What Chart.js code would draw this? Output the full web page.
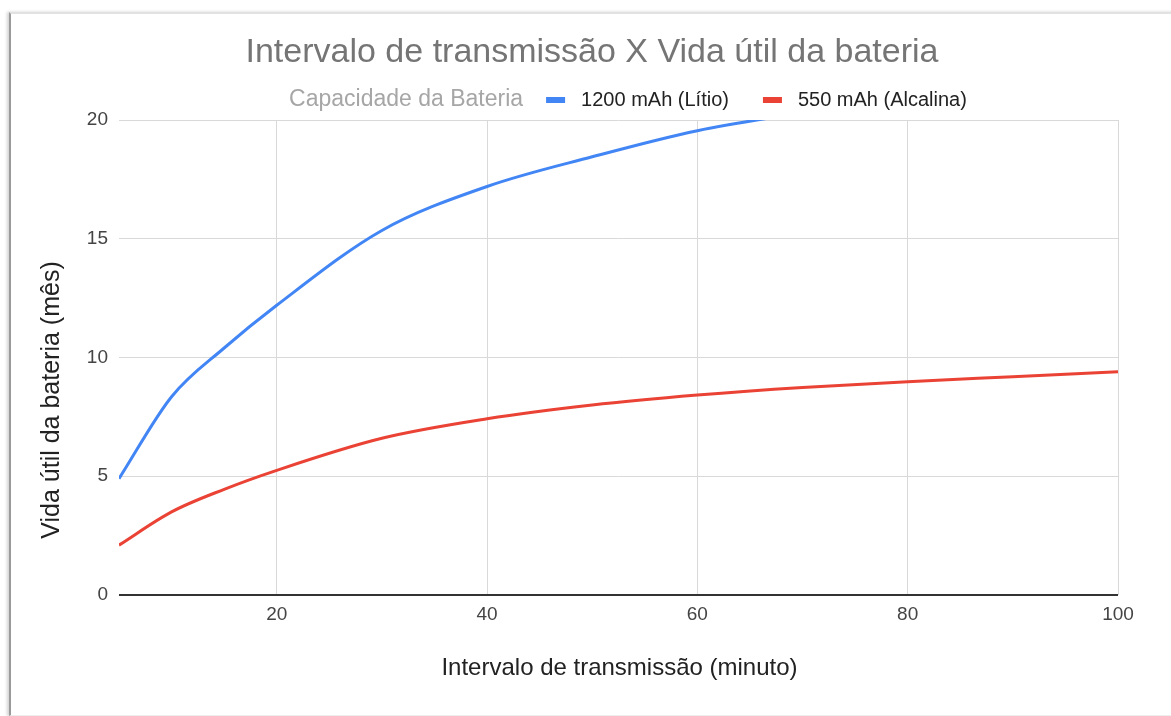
<!DOCTYPE html>
<html>
<head>
<meta charset="utf-8">
<script src="https://cdn.jsdelivr.net/npm/chart.js@4.4.1/dist/chart.umd.min.js"></script>
<style>
  html, body { margin: 0; padding: 0; background: #fff; }
  #wrap { position: relative; width: 1171px; height: 716px; overflow: hidden; }
  #frame { position: absolute; left: 9px; top: 12px; width: 1170px; height: 701px;
           border-left: 2px solid #9a9a9a; border-top: 2px solid #e2e2e2; border-bottom: 1px solid #eeeeee;
           box-shadow: -2px 0 3px rgba(0,0,0,0.18); }
  canvas { position: absolute; left: 0; top: 0; }
</style>
</head>
<body>
<div id="wrap">
  <div id="frame"></div>
  <canvas id="c" width="1171" height="716"></canvas>
</div>
<script>
// ---- data ----
const chartTitle = "Intervalo de transmissão X Vida útil da bateria";
const legendTitle = "Capacidade da Bateria";
const xAxisTitle = "Intervalo de transmissão (minuto)";
const yAxisTitle = "Vida útil da bateria (mês)";
const seriesNames = ["1200 mAh (Lítio)", "550 mAh (Alcalina)"];
const intervals = [5, 10, 15, 20, 30, 40, 50, 60, 70, 80, 90, 100];
const lithium   = [4.9, 8.35, 10.4, 12.2, 15.35, 17.2, 18.45, 19.55, 20.3, 20.9, 21.5, 22.0];
const alkaline  = [2.1, 3.5, 4.45, 5.25, 6.6, 7.42, 8.0, 8.42, 8.74, 8.98, 9.19, 9.4];
const xTicks = [20, 40, 60, 80, 100];
const yTicks = [0, 5, 10, 15, 20];

const FONT = "'Liberation Sans', Arial, sans-serif";
const colors = ["#4285f4", "#ea4335"];

const toPoints = (ys) => intervals.map((x, i) => ({ x: x, y: ys[i] }));

const decor = {
  id: 'decor',
  afterDraw(chart) {
    const ctx = chart.ctx;
    const area = chart.chartArea;
    ctx.save();
    // Title
    ctx.fillStyle = '#757575';
    ctx.font = '34px ' + FONT;
    ctx.textAlign = 'center';
    ctx.textBaseline = 'middle';
    ctx.fillText(chartTitle, 592, 53);

    // Legend (inline title + items)
    const ly = 100;
    const titleFont = '23px ' + FONT, itemFont = '20px ' + FONT;
    ctx.textAlign = 'left';
    ctx.font = titleFont;
    const tW = ctx.measureText(legendTitle).width;
    ctx.font = itemFont;
    const widths = seriesNames.map(s => ctx.measureText(s).width);
    const mk = 19, gapT = 23, gapM = 16, gapI = 34;
    const total = tW + gapT + mk + gapM + widths[0] + gapI + mk + gapM + widths[1];
    let x = 628 - total / 2;
    ctx.font = titleFont;
    ctx.fillStyle = '#a6a6a6';
    ctx.fillText(legendTitle, x, ly);
    x += tW + gapT;
    chart.data.datasets.forEach((ds, i) => {
      ctx.fillStyle = ds.borderColor;
      ctx.fillRect(x, ly - 3, mk, 6);
      x += mk + gapM;
      ctx.font = itemFont;
      ctx.fillStyle = '#222';
      ctx.fillText(ds.label, x, ly);
      x += widths[i] + gapI;
    });

    // Axis titles
    ctx.font = '24px ' + FONT;
    ctx.fillStyle = '#222';
    ctx.textAlign = 'center';
    ctx.fillText(xAxisTitle, (area.left + area.right) / 2 + 1, 668);
    ctx.font = '25px ' + FONT;
    ctx.translate(52, 400);
    ctx.rotate(-Math.PI / 2);
    ctx.fillText(yAxisTitle, 0, 0);
    ctx.restore();
  }
};

new Chart(document.getElementById('c'), {
  type: 'line',
  data: {
    datasets: [
      { label: seriesNames[0], data: toPoints(lithium), borderColor: colors[0], backgroundColor: colors[0],
        borderWidth: 3, pointRadius: 0, cubicInterpolationMode: 'monotone' },
      { label: seriesNames[1], data: toPoints(alkaline), borderColor: colors[1], backgroundColor: colors[1],
        borderWidth: 3, pointRadius: 0, cubicInterpolationMode: 'monotone' }
    ]
  },
  options: {
    responsive: false,
    animation: false,
    layout: { padding: { top: 120, right: 53, bottom: 0, left: 0 } },
    plugins: { legend: { display: false }, title: { display: false }, tooltip: { enabled: false } },
    scales: {
      x: {
        type: 'linear', min: 5, max: 100,
        afterBuildTicks: (axis) => { axis.ticks = xTicks.map(v => ({ value: v })); },
        afterFit: (s) => { s.height = 121; },
        grid: { color: '#d9d9d9', lineWidth: 1, drawTicks: false },
        border: { display: false },
        ticks: { color: '#444', font: { size: 19, family: FONT }, padding: 8, maxRotation: 0 }
      },
      y: {
        type: 'linear', min: 0, max: 20,
        afterBuildTicks: (axis) => { axis.ticks = yTicks.map(v => ({ value: v })); },
        afterFit: (s) => { s.width = 119; },
        grid: { color: (c) => c.tick && c.tick.value === 0 ? '#333' : '#d9d9d9',
                lineWidth: (c) => c.tick && c.tick.value === 0 ? 2 : 1, drawTicks: false },
        border: { display: false },
        ticks: { color: '#444', font: { size: 19, family: FONT }, padding: 11 }
      }
    }
  },
  plugins: [decor]
});
</script>
</body>
</html>
